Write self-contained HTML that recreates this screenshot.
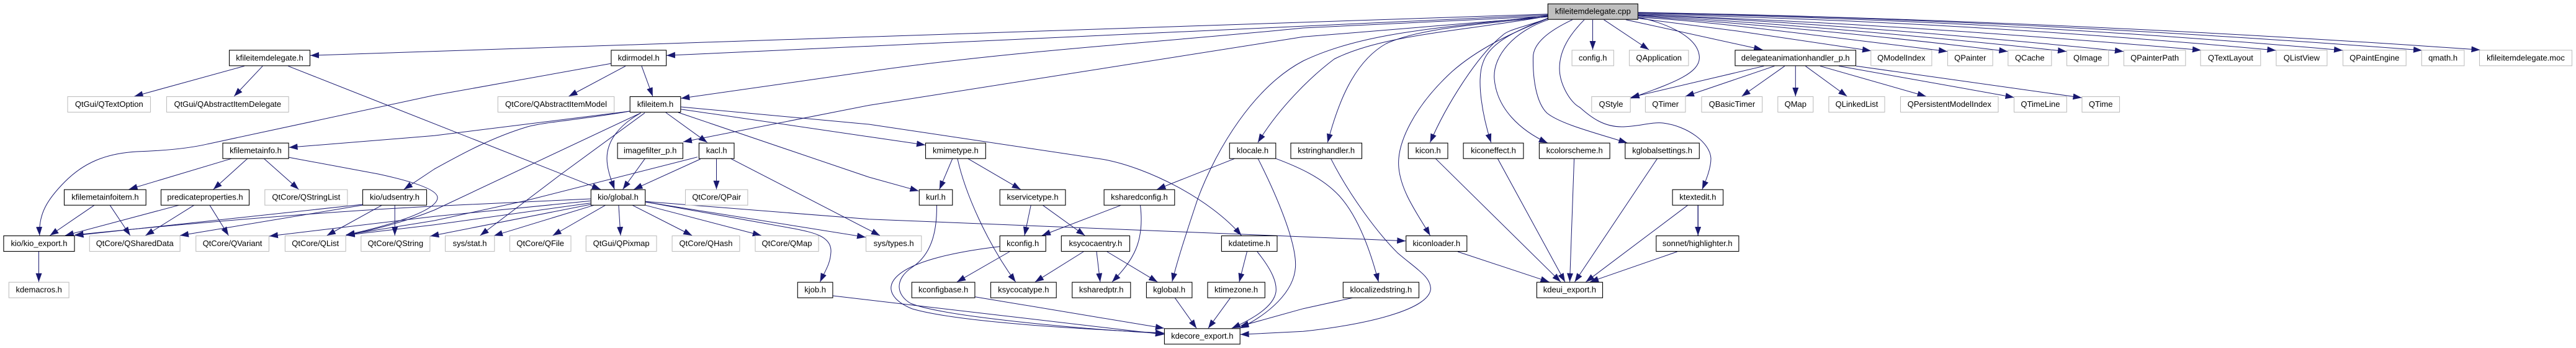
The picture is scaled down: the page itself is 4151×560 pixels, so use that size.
<!DOCTYPE html>
<html><head><meta charset="utf-8">
<style>
html,body{margin:0;padding:0;background:#fff;width:4151px;height:560px;overflow:hidden}
svg{display:block}
text{font-family:"Liberation Sans",sans-serif;font-size:13px;text-anchor:middle;fill:#000}
.n rect{fill:#fff;stroke:#000;stroke-width:1.1}
.x rect{fill:#fff;stroke:#bfbfbf;stroke-width:1.1}
.r rect{fill:#bfbfbf;stroke:#000;stroke-width:1.1}
</style></head><body>
<svg xmlns="http://www.w3.org/2000/svg" width="4151" height="560" viewBox="0 0 4151 560">
<defs><marker id="a" markerUnits="userSpaceOnUse" markerWidth="14" markerHeight="10" refX="14" refY="5" orient="auto"><path d="M0,0L14,5L0,10z" fill="#191970"/></marker></defs>
<rect width="4151" height="560" fill="#fff"/>
<g fill="none" stroke="#191970" stroke-width="1" marker-end="url(#a)">
<path d="M2494,22.7L500,89.3"/>
<path d="M2494,24L1074,89.3"/>
<path d="M2494,26C2350,32 2220,38 2100,45C1870,68 1630,82 1400,115L1097.3,158.3"/>
<path d="M2494,27L2100,59.3L1400,169.5L1100.9,228.3"/>
<path d="M2493.8,25C2330,45 2200,50 2100,98C2020,140 1960,240 1930,320C1910,380 1897,420 1888.8,453.3"/>
<path d="M2493.8,26C2360,50 2230,55 2150,95C2110,125 2060,175 2027,229.3"/>
<path d="M2493.8,26.7C2380,40 2290,45 2234,70C2180,100 2155,170 2139.3,229.3"/>
<path d="M2494,30C2450,45 2430,48 2421,57C2380,90 2330,170 2304.5,229.3"/>
<path d="M2494,30C2430,55 2380,80 2340,115C2280,170 2250,230 2254,270C2258,310 2285,345 2304.5,379"/>
<path d="M2494,29.3C2440,50 2400,70 2390,100C2378,130 2390,190 2402.7,229.3"/>
<path d="M2495,31.7C2440,50 2405,90 2408,127C2412,175 2450,210 2493.8,230"/>
<path d="M2533.9,31.7C2495,50 2470,70 2470.5,93C2470,125 2475,165 2492.9,182C2515,200 2575,215 2622.3,230"/>
<path d="M2553,31.7C2530,55 2513,80 2513,110C2513,135 2530,165 2546,173C2565,190 2585,204 2613,204C2640,204 2660,196 2680,198C2720,203 2756,230 2757,255C2757,270 2750,288 2742.9,304.7"/>
<path d="M2566.5,31.7L2566.5,80"/>
<path d="M2584.4,31.7L2657,80"/>
<path d="M2639.7,28.3C2670,33 2738,55 2738.4,93C2738,120 2690,135 2627.7,158.3"/>
<path d="M2620,31.7L2840.2,80"/>
<path d="M2640,29.5L2800,50L3015,81.7"/>
<path d="M2640,28C2750,33 2950,60 3138,82.7"/>
<path d="M2640,26C2850,40 3050,60 3235.3,82.7"/>
<path d="M2640,25C2850,36 3100,58 3330,82.7"/>
<path d="M2640,24C2850,32 3150,55 3421.9,82.7"/>
<path d="M2640,24C2950,34 3250,55 3546.9,80.7"/>
<path d="M2640,23C3000,30 3350,52 3667.4,81"/>
<path d="M2640,21.5C3000,27 3400,48 3775,81"/>
<path d="M2640,20.5C3000,26 3450,46 3903,81"/>
<path d="M2640,20C3000,26 3500,45 3996.4,80.3"/>
<path d="M393.8,106.3L216.5,155"/>
<path d="M423.2,106.3L377.2,155"/>
<path d="M464.3,106.3L967.9,304.7"/>
<path d="M984.4,102.3L700,153.3L334.8,231.7C300,240 250,243 220,244C170,247 135,262 105,292C75,322 62,345 63.8,379"/>
<path d="M1008,106.3L916.5,155"/>
<path d="M1033.9,106.3L1051.8,155"/>
<path d="M1014.7,179L700,218.3L465.6,237.3"/>
<path d="M1014.7,179C940,192 880,196 850,204C790,222 740,250 700,272L650.9,304.7"/>
<path d="M1032.6,181.7L700,338C650,358 600,370 557.6,379"/>
<path d="M1039,181.7L904.5,280L773.7,379"/>
<path d="M1032.6,181.7C1000,200 978,225 978,255C978,272 985,290 990.2,304.7"/>
<path d="M1072.8,181L1139.7,229.3"/>
<path d="M1093,181L1400,285L1480.4,307.3"/>
<path d="M1097,175.7L1400,220L1491,233.3"/>
<path d="M1097,172L1400,200L1779.5,256.7C1850,270 1950,320 2000.4,379"/>
<path d="M372.8,255.3L207.6,304.7"/>
<path d="M398.7,255.3L343.8,304.7"/>
<path d="M425.4,255.3L481.3,304.7"/>
<path d="M465.6,253.3L609.4,280C665,292 705,305 705,318C705,340 620,365 557.6,378"/>
<path d="M151.8,330.3L80.4,379"/>
<path d="M177.2,330.3L209.8,379"/>
<path d="M288,330.3L104.9,379"/>
<path d="M312.5,330.3L234.4,379"/>
<path d="M338,330.3L368.3,379"/>
<path d="M583.9,329L120.5,379"/>
<path d="M584.8,330L290,379"/>
<path d="M615.2,330.3L526.8,379"/>
<path d="M636.2,330.3L636.2,379"/>
<path d="M62.5,405L62.5,453.7"/>
<path d="M1039.3,255.3L1003.6,304.7"/>
<path d="M1128.6,256L1021.4,304.7"/>
<path d="M1124,252.7L847,323L700,355L557.6,378"/>
<path d="M1154.5,255.3L1154.5,304.7"/>
<path d="M1177.7,255.3L1417.9,379"/>
<path d="M951.8,320L700,331.7C500,342 300,360 120.5,378"/>
<path d="M951.8,323.3L700,348.3L433.9,380"/>
<path d="M951.8,326.7L700,361.7L557.6,378.5"/>
<path d="M951.8,329L693.3,380"/>
<path d="M956.7,330.3L796,379.3"/>
<path d="M975.4,330.3L890.6,379"/>
<path d="M996.9,330.3L1000,379"/>
<path d="M1019.2,330.3L1115.2,379"/>
<path d="M1040.2,330.3L1226.8,379"/>
<path d="M1040.2,325L1395,381.7"/>
<path d="M1040.2,325L1280,368C1310,374 1340,380 1339,405C1338,425 1330,435 1321.4,453.7"/>
<path d="M1040.2,324.3L1400,352.7L2265.2,387.7"/>
<path d="M1342.4,476L1875.9,538.3"/>
<path d="M1534.8,255.3L1513.8,304.7"/>
<path d="M1542.9,255.3C1555,310 1590,390 1636.6,453.7"/>
<path d="M1559.8,255.3L1644.6,304.7"/>
<path d="M1509.4,330.3C1510,375 1500,410 1470,430C1440,450 1445,475 1467,488C1520,510 1750,530 1875.9,536.7"/>
<path d="M1661.2,330.3L1650.9,379"/>
<path d="M1680.4,330.3L1748.2,379"/>
<path d="M1806.3,330.3L1679,379"/>
<path d="M1837.5,330.3C1845,390 1825,420 1792,453.7"/>
<path d="M1610.7,396.7C1540,405 1470,420 1445,445C1425,465 1440,485 1470,497C1550,520 1760,530 1875.9,536"/>
<path d="M1626.8,405L1542,453.7"/>
<path d="M1571.4,477.7L1875.9,528.3"/>
<path d="M1746,405L1667.9,453.7"/>
<path d="M1767,405L1772.8,453.7"/>
<path d="M1783.9,405L1865.2,453.7"/>
<path d="M1893.3,479.3L1928.1,528.3"/>
<path d="M1982.6,479.3L1946.9,528.3"/>
<path d="M2009.4,405L1996.9,453.7"/>
<path d="M2025.9,405C2050,435 2058,455 2056,470C2052,495 2015,515 1984.8,528.3"/>
<path d="M2027.2,255.3C2055,310 2090,390 2087.5,430C2085,470 2045,505 1998,528.3"/>
<path d="M1989.3,255.3L1864.3,304.7"/>
<path d="M2056.3,255.3C2090,268 2130,285 2158,315C2190,350 2210,410 2221.4,453.7"/>
<path d="M2179.5,479.3L2100,496.7L1998.2,525"/>
<path d="M2144.6,255.3C2175,315 2220,375 2251.8,406.7C2285,435 2305,445 2305.4,465C2303,495 2220,520 2100,533.3L1998.7,538.3"/>
<path d="M2349,405L2496.4,453.7"/>
<path d="M2313.4,255.3L2515,453.7"/>
<path d="M2413.4,255.3L2521.9,453.7"/>
<path d="M2536.6,255.3L2529.5,453.7"/>
<path d="M2670.5,255.3L2537.5,453.7"/>
<path d="M2719.6,330.3L2555.4,453.7"/>
<path d="M2702.7,405L2562,453.7"/>
<path d="M2736.2,330.3L2736.2,379" stroke-width="1.4"/>
<path d="M2842.4,106.3L2627.7,156.7"/>
<path d="M2859.4,106.3L2716,155"/>
<path d="M2875.9,106.3L2806.7,155"/>
<path d="M2893.3,106.3L2893.3,155"/>
<path d="M2909.4,106.3L2976.3,155"/>
<path d="M2933,106.3L3103.6,155"/>
<path d="M2963,106.3L3245.5,156.7"/>
<path d="M2991,106.3L3354.5,157.3"/>
</g>
<g class="r"><rect x="2494.3" y="6.2" width="145" height="25"/><text x="2566.8" y="22.5">kfileitemdelegate.cpp</text></g>
<g class="n">
<rect x="369.5" y="80.8" width="130" height="25"/><text x="434.5" y="97.3">kfileitemdelegate.h</text>
<rect x="984.9" y="80.8" width="88.7" height="25"/><text x="1029.2" y="97.3">kdirmodel.h</text>
<rect x="2796" y="80.8" width="194.5" height="25"/><text x="2893.2" y="97.3">delegateanimationhandler_p.h</text>
<rect x="1015.2" y="155.5" width="81.6" height="25"/><text x="1056" y="171.9">kfileitem.h</text>
<rect x="359" y="230.2" width="106.1" height="25"/><text x="412" y="246.5">kfilemetainfo.h</text>
<rect x="995.1" y="230.2" width="105.3" height="25"/><text x="1047.7" y="246.5">imagefilter_p.h</text>
<rect x="1126.4" y="230.2" width="56.6" height="25"/><text x="1154.7" y="246.5">kacl.h</text>
<rect x="1491.5" y="230.2" width="96.8" height="25"/><text x="1539.9" y="246.5">kmimetype.h</text>
<rect x="1981.3" y="230.2" width="74.5" height="25"/><text x="2018.5" y="246.5">klocale.h</text>
<rect x="2080" y="230.2" width="114.5" height="25"/><text x="2137.2" y="246.5">kstringhandler.h</text>
<rect x="2269.3" y="230.2" width="63.7" height="25"/><text x="2301.2" y="246.5">kicon.h</text>
<rect x="2358.1" y="230.2" width="96.8" height="25"/><text x="2406.5" y="246.5">kiconeffect.h</text>
<rect x="2480.4" y="230.2" width="113.7" height="25"/><text x="2537.2" y="246.5">kcolorscheme.h</text>
<rect x="2618.8" y="230.2" width="119.5" height="25"/><text x="2678.5" y="246.5">kglobalsettings.h</text>
<rect x="103.5" y="305.2" width="131.7" height="25"/><text x="169.4" y="321.5">kfilemetainfoitem.h</text>
<rect x="259.5" y="305.2" width="142" height="25"/><text x="330.5" y="321.5">predicateproperties.h</text>
<rect x="584.5" y="305.2" width="103" height="25"/><text x="636" y="321.5">kio/udsentry.h</text>
<rect x="952.3" y="305.2" width="87.4" height="25"/><text x="996" y="321.5">kio/global.h</text>
<rect x="1481.3" y="305.2" width="53.5" height="25"/><text x="1508" y="321.5">kurl.h</text>
<rect x="1611.2" y="305.2" width="105.7" height="25"/><text x="1664" y="321.5">kservicetype.h</text>
<rect x="1779.1" y="305.2" width="113.7" height="25"/><text x="1836" y="321.5">ksharedconfig.h</text>
<rect x="2695.1" y="305.2" width="81.6" height="25"/><text x="2735.9" y="321.5">ktextedit.h</text>
<rect x="5.9" y="379.5" width="114.1" height="25"/><text x="63" y="396">kio/kio_export.h</text>
<rect x="1611.2" y="379.5" width="74" height="25"/><text x="1648.2" y="396">kconfig.h</text>
<rect x="1710.3" y="379.5" width="110.2" height="25"/><text x="1765.4" y="396">ksycocaentry.h</text>
<rect x="1968.4" y="379.5" width="89.6" height="25"/><text x="2013.2" y="396">kdatetime.h</text>
<rect x="2265.7" y="379.5" width="98.1" height="25"/><text x="2314.8" y="396">kiconloader.h</text>
<rect x="2668.8" y="379.5" width="133.1" height="25"/><text x="2735.3" y="396">sonnet/highlighter.h</text>
<rect x="1285.3" y="454.2" width="56.6" height="25"/><text x="1313.6" y="470.5">kjob.h</text>
<rect x="1469.3" y="454.2" width="101.6" height="25"/><text x="1520.1" y="470.5">kconfigbase.h</text>
<rect x="1596.5" y="454.2" width="105.7" height="25"/><text x="1649.3" y="470.5">ksycocatype.h</text>
<rect x="1727.7" y="454.2" width="94.1" height="25"/><text x="1774.7" y="470.5">ksharedptr.h</text>
<rect x="1847.4" y="454.2" width="73.5" height="25"/><text x="1884.1" y="470.5">kglobal.h</text>
<rect x="1946" y="454.2" width="92.3" height="25"/><text x="1992.1" y="470.5">ktimezone.h</text>
<rect x="2164.3" y="454.2" width="122.2" height="25"/><text x="2225.4" y="470.5">klocalizedstring.h</text>
<rect x="2476.4" y="454.2" width="106.1" height="25"/><text x="2529.4" y="470.5">kdeui_export.h</text>
<rect x="1876.4" y="528.8" width="121.8" height="25"/><text x="1937.3" y="545.2">kdecore_export.h</text>
</g>
<g class="x">
<rect x="2533.1" y="80.8" width="67.3" height="25"/><text x="2566.7" y="97.3">config.h</text>
<rect x="2625.5" y="80.8" width="95.4" height="25"/><text x="2673.2" y="97.3">QApplication</text>
<rect x="3014.8" y="80.8" width="98.1" height="25"/><text x="3063.8" y="97.3">QModelIndex</text>
<rect x="3138.5" y="80.8" width="72.6" height="25"/><text x="3174.8" y="97.3">QPainter</text>
<rect x="3235.8" y="80.8" width="70" height="25"/><text x="3270.8" y="97.3">QCache</text>
<rect x="3330.5" y="80.8" width="67.2" height="25"/><text x="3364.1" y="97.3">QImage</text>
<rect x="3422.4" y="80.8" width="99.4" height="25"/><text x="3472.1" y="97.3">QPainterPath</text>
<rect x="3546" y="80.8" width="96.8" height="25"/><text x="3594.4" y="97.3">QTextLayout</text>
<rect x="3667.9" y="80.8" width="82" height="25"/><text x="3708.9" y="97.3">QListView</text>
<rect x="3775.5" y="80.8" width="101.7" height="25"/><text x="3826.3" y="97.3">QPaintEngine</text>
<rect x="3902.3" y="80.8" width="68.6" height="25"/><text x="3936.6" y="97.3">qmath.h</text>
<rect x="3995.5" y="80.8" width="149" height="25"/><text x="4070" y="97.3">kfileitemdelegate.moc</text>
<rect x="109" y="155.5" width="133.5" height="25"/><text x="175.8" y="171.9">QtGui/QTextOption</text>
<rect x="268.5" y="155.5" width="196.6" height="25"/><text x="366.8" y="171.9">QtGui/QAbstractItemDelegate</text>
<rect x="802.3" y="155.5" width="187.4" height="25"/><text x="896" y="171.9">QtCore/QAbstractItemModel</text>
<rect x="2564.8" y="155.5" width="62.4" height="25"/><text x="2596" y="171.9">QStyle</text>
<rect x="2651.4" y="155.5" width="64.6" height="25"/><text x="2683.7" y="171.9">QTimer</text>
<rect x="2742" y="155.5" width="97.7" height="25"/><text x="2790.9" y="171.9">QBasicTimer</text>
<rect x="2864.8" y="155.5" width="57" height="25"/><text x="2893.3" y="171.9">QMap</text>
<rect x="2946.9" y="155.5" width="90.1" height="25"/><text x="2992" y="171.9">QLinkedList</text>
<rect x="3062.5" y="155.5" width="157.5" height="25"/><text x="3141.3" y="171.9">QPersistentModelIndex</text>
<rect x="3245.5" y="155.5" width="84.8" height="25"/><text x="3287.9" y="171.9">QTimeLine</text>
<rect x="3355" y="155.5" width="60.5" height="25"/><text x="3385.2" y="171.9">QTime</text>
<rect x="426.8" y="305.2" width="133" height="25"/><text x="493.3" y="321.5">QtCore/QStringList</text>
<rect x="1104.5" y="305.2" width="100.4" height="25"/><text x="1154.7" y="321.5">QtCore/QPair</text>
<rect x="144.3" y="379.5" width="145.8" height="25"/><text x="217.2" y="396">QtCore/QSharedData</text>
<rect x="315.7" y="379.5" width="117.7" height="25"/><text x="374.5" y="396">QtCore/QVariant</text>
<rect x="459.4" y="379.5" width="97.7" height="25"/><text x="508.2" y="396">QtCore/QList</text>
<rect x="581.8" y="379.5" width="111" height="25"/><text x="637.3" y="396">QtCore/QString</text>
<rect x="717.5" y="379.5" width="79.3" height="25"/><text x="757.1" y="396">sys/stat.h</text>
<rect x="821.5" y="379.5" width="98.5" height="25"/><text x="870.7" y="396">QtCore/QFile</text>
<rect x="944.3" y="379.5" width="113.7" height="25"/><text x="1001.1" y="396">QtGui/QPixmap</text>
<rect x="1083.1" y="379.5" width="108.8" height="25"/><text x="1137.5" y="396">QtCore/QHash</text>
<rect x="1217" y="379.5" width="102.1" height="25"/><text x="1268" y="396">QtCore/QMap</text>
<rect x="1395.5" y="379.5" width="89.3" height="25"/><text x="1440.1" y="396">sys/types.h</text>
<rect x="14.3" y="454.2" width="96.8" height="25"/><text x="62.7" y="470.5">kdemacros.h</text>
</g>
</svg>
</body></html>
